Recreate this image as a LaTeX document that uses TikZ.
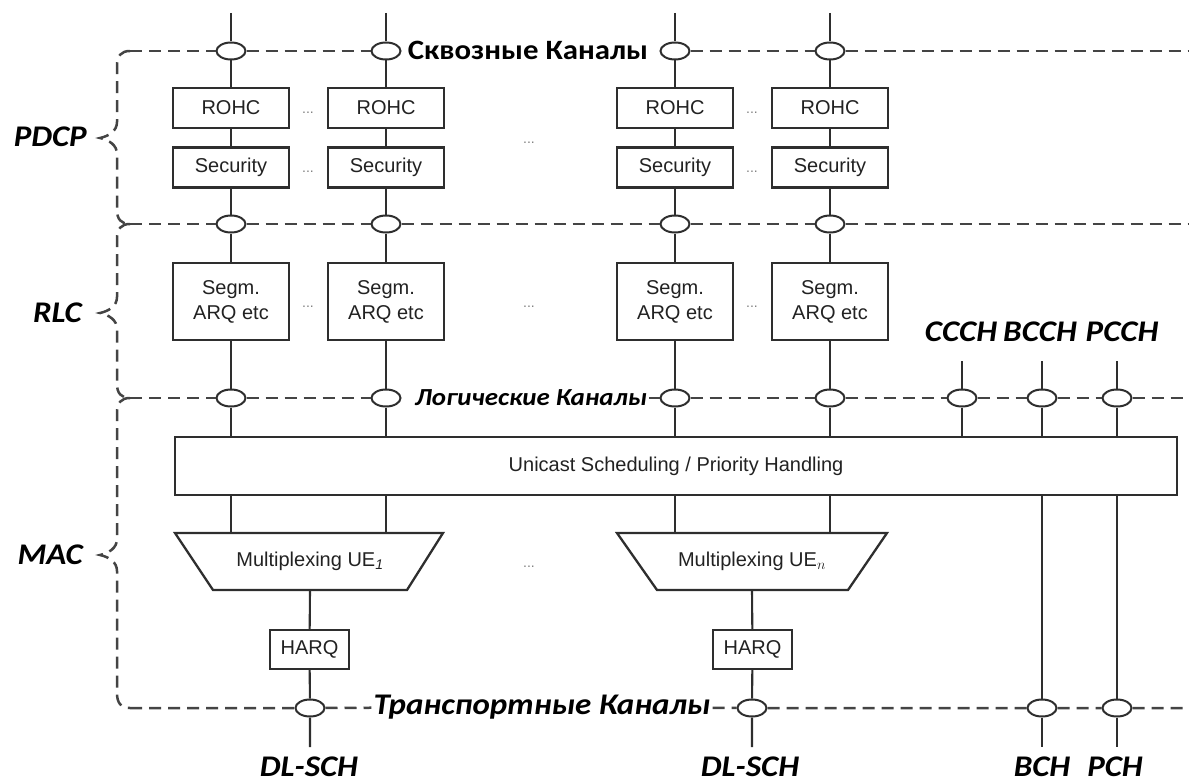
\documentclass[tikz,border=0pt]{standalone}
\usepackage{fontspec}
\setmainfont{Liberation Sans}
\newfontfamily\lblfont[FakeStretch=1.1]{Carlito}
\usetikzlibrary{shapes.geometric}
\definecolor{linec}{HTML}{2E2E2E}
\definecolor{dashc}{HTML}{444444}
\definecolor{txtc}{HTML}{222222}
\begin{document}
\begin{tikzpicture}[x=1pt,y=-1pt,
  box/.style={draw=linec, line width=2.3pt, fill=white, minimum width=116pt, minimum height=40pt, inner sep=0pt, text=txtc, font=\fontsize{20}{25}\selectfont},
  segbox/.style={box, minimum height=77pt, align=center},
  harqbox/.style={box, minimum width=79pt, minimum height=39pt},
  chan/.style={ellipse, draw=linec, fill=white, line width=2pt, minimum width=29pt, minimum height=17pt, inner sep=0pt},
  wire/.style={draw=linec, line width=2.1pt},
  dline/.style={draw=dashc, line width=2.5pt, dash pattern=on 12pt off 7pt},
  lbl/.style={font=\lblfont\bfseries\itshape\fontsize{30}{36}\selectfont, text=black, inner sep=1pt},
  dotsty/.style={font=\fontsize{14}{15}\selectfont, text=gray, inner sep=0pt},
  trap/.style={draw=linec, line width=2.3pt, fill=white}
]
\useasboundingbox (0,0) rectangle (1189,784);

% column tops
\coordinate (top1) at (231,13);
\coordinate (top2) at (386,13);
\coordinate (top3) at (675,13);
\coordinate (top4) at (830,13);

% boxes and channel ovals of the four radio bearers
\foreach \i/\x in {1/231,2/386,3/675,4/830}{
  \node[chan] (t\i) at (\x,51) {};
  \node[box] (r\i) at (\x,108) {ROHC};
  \node[box] (s\i) at (\x,167.5) {Security};
  \node[chan] (m\i) at (\x,224) {};
  \node[segbox] (g\i) at (\x,301.5) {Segm.\\ARQ etc};
  \node[chan] (l\i) at (\x,398) {};
}
\node[chan] (l5) at (962,398) {};
\node[chan] (l6) at (1042,398) {};
\node[chan] (l7) at (1117,398) {};

% unicast box
\node[box, minimum width=1002pt, minimum height=58pt] (uni) at (676,466) {Unicast Scheduling / Priority Handling};

% multiplexing trapezoids
\draw[trap] (175,533) -- (443,533) -- (407,590) -- (213,590) -- cycle;
\node[text=txtc, font=\fontsize{20}{25}\selectfont] (mux1) at (310,561.5) {Multiplexing UE$_{\mathit{1}}$};
\coordinate (mx1n) at (310,533);
\coordinate (mx1s) at (310,590);
\draw[trap] (617,533) -- (887,533) -- (848,590) -- (657,590) -- cycle;
\node[text=txtc, font=\fontsize{20}{25}\selectfont] (mux2) at (752,561.5) {Multiplexing UE$_{n}$};
\coordinate (mx2n) at (752,533);
\coordinate (mx2s) at (752,590);

\node[harqbox] (h1) at (309.5,649.5) {HARQ};
\node[harqbox] (h2) at (752.5,649.5) {HARQ};

% transport ovals
\node[chan] (tr1) at (310,708) {};
\node[chan] (tr2) at (752,708) {};
\node[chan] (tr3) at (1042,708) {};
\node[chan] (tr4) at (1117,708) {};

% labels on lines
\node[font=\lblfont\bfseries\fontsize{28}{34}\selectfont, inner sep=1pt] (toplbl) at (528,50) {Сквозные Каналы};
\node[lbl, font=\lblfont\bfseries\itshape\fontsize{24.5}{30}\selectfont, inner sep=2pt] (loglbl) at (531,398) {Логические Каналы};
\node[lbl, inner sep=2pt] (trlbl) at (542,707) {Транспортные Каналы};

% dashed channel lines
\coordinate (e1) at (1189,51);
\coordinate (e2) at (1189,224);
\coordinate (e3) at (1189,398);
\coordinate (e4) at (1189,708);
\coordinate (b1) at (130,51);
\coordinate (b2) at (130,224);
\coordinate (b3) at (130,398);
\coordinate (b4) at (130,708);
\draw[dline] (b1) -- (t1) -- (t2);
\draw[dline] (t3) -- (t4) -- (e1);
\draw[dline] (b2) -- (m1) -- (m2) -- (m3) -- (m4) -- (e2);
\draw[dline] (b3) -- (l1) -- (l2);
\draw[dline] (loglbl) -- (l3) -- (l4) -- (l5) -- (l6) -- (l7) -- (e3);
\draw[dline] (b4) -- (tr1) -- (trlbl) -- (tr2) -- (tr3) -- (tr4) -- (e4);

% braces
\draw[dline] (b1) .. controls (121,51) and (117,56) .. (117,66) -- (117,122)
  .. controls (117,131) and (109,136) .. (100,138) .. controls (109,140) and (117,145) .. (117,154)
  -- (117,210) .. controls (117,219) and (121,224) .. (b2);
\draw[dline] (b2) .. controls (121,224) and (117,229) .. (117,239) -- (117,297)
  .. controls (117,306) and (109,311) .. (100,313) .. controls (109,315) and (117,320) .. (117,329)
  -- (117,384) .. controls (117,393) and (121,398) .. (b3);
\draw[dline] (b3) .. controls (121,398) and (117,403) .. (117,413) -- (117,539)
  .. controls (117,548) and (109,553) .. (100,555) .. controls (109,557) and (117,562) .. (117,571)
  -- (117,693) .. controls (117,703) and (121,708) .. (b4);

% column wires
\foreach \i in {1,2,3,4}{
  \draw[wire] (top\i) -- (t\i) -- (r\i) -- (s\i) -- (m\i) -- (g\i) -- (l\i) -- (l\i |- uni.north);
}
\draw[wire] (uni.south -| top1) -- (top1 |- mx1n);
\draw[wire] (uni.south -| top2) -- (top2 |- mx1n);
\draw[wire] (uni.south -| top3) -- (top3 |- mx2n);
\draw[wire] (uni.south -| top4) -- (top4 |- mx2n);

\coordinate (d1) at (310,747);
\coordinate (d2) at (752,747);
\coordinate (d3) at (1042,747);
\coordinate (d4) at (1117,747);
\draw[wire] (mx1s) -- (h1) -- (tr1) -- (d1);
\draw[wire] (mx2s) -- (h2) -- (tr2) -- (d2);

% common channels
\coordinate (c5) at (962,361);
\coordinate (c6) at (1042,361);
\coordinate (c7) at (1117,361);
\draw[wire] (c5) -- (l5) -- (l5 |- uni.north);
\draw[wire] (c6) -- (l6) -- (l6 |- uni.north);
\draw[wire] (c7) -- (l7) -- (l7 |- uni.north);
\draw[wire] (uni.south -| c6) -- (tr3) -- (d3);
\draw[wire] (uni.south -| c7) -- (tr4) -- (d4);

% dots
\foreach \y in {113,172,307}{
  \node[dotsty] at (308,\y) {...};
  \node[dotsty] at (752,\y) {...};
}
\node[dotsty] at (529,143) {...};
\node[dotsty] at (529,307) {...};
\node[dotsty] at (529,567) {...};

% layer labels
\node[lbl, anchor=east] (pdcp) at (88,137) {PDCP};
\node[lbl, anchor=east] (rlc) at (83,313) {RLC};
\node[lbl, anchor=east] (mac) at (84,555) {MAC};

% channel names
\node[lbl] (ccch) at (961,332) {CCCH};
\node[lbl] (bcch) at (1040,332) {BCCH};
\node[lbl] (pcch) at (1122,332) {PCCH};
\node[lbl] (dlsch1) at (309,767) {DL-SCH};
\node[lbl] (dlsch2) at (750,767) {DL-SCH};
\node[lbl] (bch) at (1042,767) {BCH};
\node[lbl] (pch) at (1115,767) {PCH};
\end{tikzpicture}
\end{document}
